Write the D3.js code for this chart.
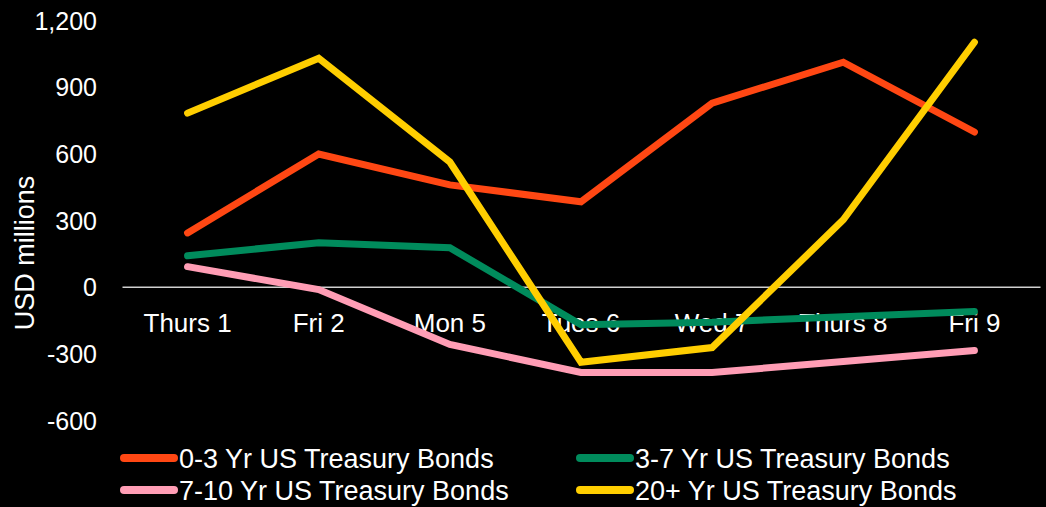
<!DOCTYPE html>
<html>
<head>
<meta charset="utf-8">
<style>
  body { margin: 0; background: #000; }
  svg { display: block; font-family: "Liberation Sans", Arial, sans-serif; }
</style>
</head>
<body>
<script src="https://cdn.jsdelivr.net/npm/d3@7"></script>
<script>
// data (USD millions)
var days = ["Thurs 1", "Fri 2", "Mon 5", "Tues 6", "Wed 7", "Thurs 8", "Fri 9"];
var short03 = [242, 597, 458, 382, 826, 1010, 696];
var mid37 = [139, 198, 175, -171, -160, -135, -112];
var mid710 = [90, -13, -260, -386, -386, -337, -287];
var long20 = [781, 1028, 561, -340, -274, 301, 1100];
var yTicks = [-600, -300, 0, 300, 600, 900, 1200];

var series = [
  {name: "0-3 Yr US Treasury Bonds", values: short03, color: "#ff4713"},
  {name: "3-7 Yr US Treasury Bonds", values: mid37, color: "#008b5c"},
  {name: "7-10 Yr US Treasury Bonds", values: mid710, color: "#ff9db5"},
  {name: "20+ Yr US Treasury Bonds", values: long20, color: "#ffce00"}
];
// drawing order: yellow on top of others
var drawOrder = [2, 1, 0, 3];

var W = 1046, H = 507;
var svg = d3.select("body").append("svg")
  .attr("width", W).attr("height", H);
svg.append("rect").attr("width", W).attr("height", H).attr("fill", "#000");

var x = d3.scaleBand().domain(days).range([122, 1040]);
var y = d3.scaleLinear().domain([-600, 1200]).range([420, 20]);

// y tick labels (plain hyphen for negatives)
var fmt = d3.format(",");
var yAxis = d3.axisLeft(y).tickValues(yTicks).tickSize(0).tickPadding(0)
  .tickFormat(function(d) { return fmt(d).replace("\u2212", "-"); });
var gy = svg.append("g").attr("transform", "translate(97,0)").call(yAxis);
gy.select(".domain").remove();
gy.selectAll("text").attr("fill", "#fff").style("font-size", "25px")
  .attr("font-family", null).attr("dy", "0.36em");

svg.append("text")
  .attr("transform", "translate(34,253) rotate(-90)")
  .attr("text-anchor", "middle")
  .attr("fill", "#fff").style("font-size", "27px")
  .text("USD millions");

// zero line and day labels
var xAxis = d3.axisBottom(x).tickSize(0).tickPadding(0);
var gx = svg.append("g").attr("transform", "translate(0," + y(0) + ")").call(xAxis);
gx.select(".domain").attr("stroke", "#d0d0d0").attr("stroke-width", 1.5);
gx.selectAll("text").attr("fill", "#fff").style("font-size", "26px")
  .attr("font-family", null).attr("y", 45).attr("dy", 0);

var line = d3.line()
  .x(function(d, i) { return x(days[i]) + x.bandwidth() / 2; })
  .y(function(d) { return y(d); });

drawOrder.forEach(function(k) {
  var s = series[k];
  svg.append("path").datum(s.values)
    .attr("d", line)
    .attr("fill", "none")
    .attr("stroke", s.color)
    .attr("stroke-width", 7)
    .attr("stroke-linecap", "round")
    .attr("stroke-linejoin", "miter");
});

// legend
var legPos = [[120, 458], [576, 458], [120, 490], [576, 490]];
series.forEach(function(s, i) {
  var g = svg.append("g").attr("transform", "translate(" + legPos[i][0] + "," + legPos[i][1] + ")");
  g.append("line").attr("x1", 4).attr("x2", 54).attr("y1", 0).attr("y2", 0)
    .attr("stroke", s.color).attr("stroke-width", 8).attr("stroke-linecap", "round");
  g.append("text").attr("x", 59).attr("dy", "0.36em")
    .attr("fill", "#fff").style("font-size", "27px").text(s.name);
});
</script>
</body>
</html>
